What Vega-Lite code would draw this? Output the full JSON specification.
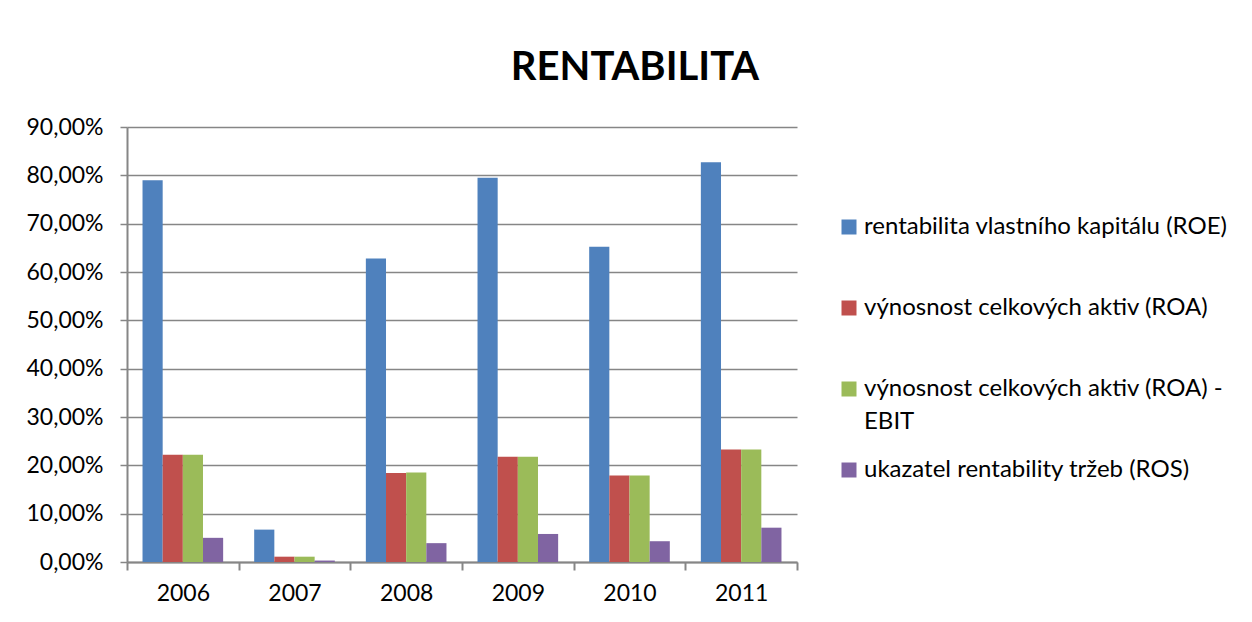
{
  "$schema": "https://vega.github.io/schema/vega-lite/v6.json",
  "autosize": {"type": "none"},
  "padding": {"left": 127, "top": 127, "right": 455, "bottom": 60},
  "width": 670,
  "height": 435,
  "background": "white",
  "title": {"text": "RENTABILITA", "font": "Lato", "fontSize": 40, "fontWeight": "bold", "color": "black", "anchor": "middle", "frame": "group", "dx": 173, "offset": 28},
  "data": {"values": [
    {"year": "2006", "metric": "rentabilita vlastního kapitálu (ROE)", "value": 0.790},
    {"year": "2006", "metric": "výnosnost celkových aktiv (ROA)", "value": 0.222},
    {"year": "2006", "metric": "výnosnost celkových aktiv (ROA) - EBIT", "value": 0.222},
    {"year": "2006", "metric": "ukazatel rentability tržeb (ROS)", "value": 0.050},
    {"year": "2007", "metric": "rentabilita vlastního kapitálu (ROE)", "value": 0.067},
    {"year": "2007", "metric": "výnosnost celkových aktiv (ROA)", "value": 0.011},
    {"year": "2007", "metric": "výnosnost celkových aktiv (ROA) - EBIT", "value": 0.011},
    {"year": "2007", "metric": "ukazatel rentability tržeb (ROS)", "value": 0.003},
    {"year": "2008", "metric": "rentabilita vlastního kapitálu (ROE)", "value": 0.628},
    {"year": "2008", "metric": "výnosnost celkových aktiv (ROA)", "value": 0.184},
    {"year": "2008", "metric": "výnosnost celkových aktiv (ROA) - EBIT", "value": 0.185},
    {"year": "2008", "metric": "ukazatel rentability tržeb (ROS)", "value": 0.039},
    {"year": "2009", "metric": "rentabilita vlastního kapitálu (ROE)", "value": 0.795},
    {"year": "2009", "metric": "výnosnost celkových aktiv (ROA)", "value": 0.218},
    {"year": "2009", "metric": "výnosnost celkových aktiv (ROA) - EBIT", "value": 0.218},
    {"year": "2009", "metric": "ukazatel rentability tržeb (ROS)", "value": 0.058},
    {"year": "2010", "metric": "rentabilita vlastního kapitálu (ROE)", "value": 0.652},
    {"year": "2010", "metric": "výnosnost celkových aktiv (ROA)", "value": 0.179},
    {"year": "2010", "metric": "výnosnost celkových aktiv (ROA) - EBIT", "value": 0.179},
    {"year": "2010", "metric": "ukazatel rentability tržeb (ROS)", "value": 0.043},
    {"year": "2011", "metric": "rentabilita vlastního kapitálu (ROE)", "value": 0.827},
    {"year": "2011", "metric": "výnosnost celkových aktiv (ROA)", "value": 0.233},
    {"year": "2011", "metric": "výnosnost celkových aktiv (ROA) - EBIT", "value": 0.233},
    {"year": "2011", "metric": "ukazatel rentability tržeb (ROS)", "value": 0.071}
  ]},
  "mark": {"type": "bar", "stroke": null},
  "encoding": {
    "x": {
      "field": "year", "type": "nominal", "title": null,
      "scale": {"paddingInner": 0, "paddingOuter": 0},
      "axis": {"labelAngle": 0, "tickBand": "extent", "tickSize": 8, "tickColor": "#868686", "tickWidth": 2, "domainColor": "#868686", "domainWidth": 2, "labelFont": "Lato", "labelFontSize": 23, "labelColor": "black", "labelPadding": 12, "grid": false}
    },
    "xOffset": {
      "field": "metric", "type": "nominal",
      "sort": ["rentabilita vlastního kapitálu (ROE)", "výnosnost celkových aktiv (ROA)", "výnosnost celkových aktiv (ROA) - EBIT", "ukazatel rentability tržeb (ROS)"],
      "scale": {"paddingInner": 0, "paddingOuter": 0.77}
    },
    "y": {
      "field": "value", "type": "quantitative", "title": null,
      "scale": {"domain": [0, 0.9], "nice": false},
      "axis": {"values": [0, 0.1, 0.2, 0.3, 0.4, 0.5, 0.6, 0.7, 0.8, 0.9], "labelExpr": "replace(format(datum.value, '.2%'), '.', ',')", "tickSize": 7, "tickColor": "#868686", "tickWidth": 1.5, "domainColor": "#868686", "domainWidth": 2, "gridColor": "#868686", "gridWidth": 1.5, "labelFont": "Lato", "labelFontSize": 23, "labelColor": "black", "labelPadding": 17}
    },
    "color": {
      "field": "metric", "type": "nominal", "title": null,
      "scale": {
        "domain": ["rentabilita vlastního kapitálu (ROE)", "výnosnost celkových aktiv (ROA)", "výnosnost celkových aktiv (ROA) - EBIT", "ukazatel rentability tržeb (ROS)"],
        "range": ["#4F81BD", "#C0504D", "#9BBB59", "#8064A2"]
      },
      "legend": {
        "orient": "none", "legendX": 710, "legendY": 88, "padding": 0,
        "symbolType": "square", "symbolSize": 225, "symbolStrokeWidth": 0,
        "labelFont": "Lato", "labelFontSize": 24, "labelColor": "black", "labelLimit": 0, "labelOffset": 3,
        "gridAlign": "all", "rowPadding": 24,
        "labelExpr": "datum.label == 'výnosnost celkových aktiv (ROA) - EBIT' ? ['výnosnost celkových aktiv (ROA) -', 'EBIT'] : datum.label"
      }
    }
  },
  "config": {"view": {"stroke": null}, "style": {"guide-label": {"lineHeight": 33}}}
}
